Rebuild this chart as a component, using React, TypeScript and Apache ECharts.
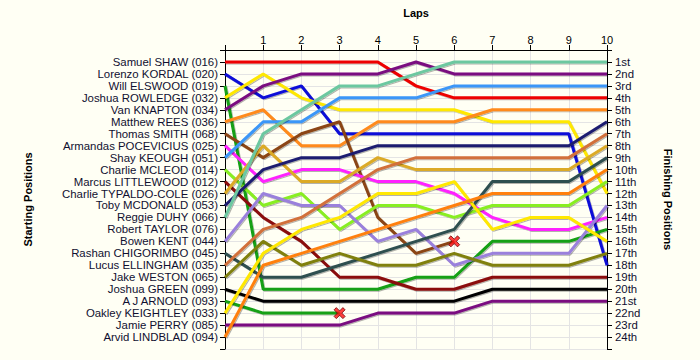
import React, { useEffect, useRef } from "react";
import * as echarts from "echarts";

const laps = [0, 1, 2, 3, 4, 5, 6, 7, 8, 9, 10];

const startNames = [
  "Samuel SHAW (016)",
  "Lorenzo KORDAL (020)",
  "Will ELSWOOD (019)",
  "Joshua ROWLEDGE (032)",
  "Van KNAPTON (034)",
  "Matthew REES (036)",
  "Thomas SMITH (068)",
  "Armandas POCEVICIUS (025)",
  "Shay KEOUGH (051)",
  "Charlie MCLEOD (014)",
  "Marcus LITTLEWOOD (012)",
  "Charlie TYPALDO-COLE (026)",
  "Toby MCDONALD (053)",
  "Reggie DUHY (066)",
  "Robert TAYLOR (076)",
  "Bowen KENT (044)",
  "Rashan CHIGORIMBO (045)",
  "Lucus ELLINGHAM (035)",
  "Jake WESTON (065)",
  "Joshua GREEN (099)",
  "A J ARNOLD (093)",
  "Oakley KEIGHTLEY (033)",
  "Jamie PERRY (085)",
  "Arvid LINDBLAD (094)",
];

const finishLabels = [
  "1st", "2nd", "3rd", "4th", "5th", "6th", "7th", "8th", "9th", "10th",
  "11th", "12th", "13th", "14th", "15th", "16th", "17th", "18th", "19th", "20th",
  "21st", "22nd", "23rd", "24th",
];

// Position at each lap (index = lap), keyed by grid slot
const pos01 = [1, 1, 1, 1, 1, 3, 4, 4, 4, 4, 4];
const pos02 = [2, 4, 3, 7, 7, 7, 7, 7, 7, 7, 18];
const pos03 = [3, 20, 20, 20, 20, 19, 19, 16, 16, 16, 15];
const pos04 = [4, 2, 4, 5, 5, 5, 5, 6, 6, 6, 12];
const pos05 = [5, 3, 2, 2, 2, 1, 2, 2, 2, 2, 2];
const pos06 = [6, 5, 8, 8, 6, 6, 6, 5, 5, 5, 5];
const pos07 = [7, 9, 7, 6, 14, 17, 16];
const pos08 = [8, 11, 10, 10, 11, 11, 12, 14, 15, 15, 14];
const pos09 = [9, 6, 6, 4, 4, 4, 3, 3, 3, 3, 3];
const pos10 = [10, 13, 12, 15, 13, 13, 14, 13, 13, 13, 11];
const pos11 = [11, 14, 16, 19, 19, 20, 20, 19, 19, 19, 19];
const pos12 = [12, 8, 11, 11, 9, 10, 10, 10, 10, 10, 8];
const pos13 = [13, 10, 9, 9, 8, 8, 8, 8, 8, 8, 6];
const pos14 = [14, 7, 5, 3, 3, 2, 1, 1, 1, 1, 1];
const pos16 = [16, 12, 13, 13, 16, 15, 18, 17, 17, 17, 13];
const pos17 = [17, 19, 19, 18, 17, 16, 15, 11, 11, 11, 9];
const pos18 = [18, 15, 14, 12, 10, 9, 9, 9, 9, 9, 7];
const pos19 = [19, 16, 18, 17, 18, 18, 17, 18, 18, 18, 17];
const pos20 = [20, 21, 21, 21, 21, 21, 21, 20, 20, 20, 20];
const pos21 = [21, 22, 22, 22];
const pos22 = [22, 17, 15, 14, 12, 12, 11, 15, 14, 14, 16];
const pos23 = [23, 23, 23, 23, 22, 22, 22, 21, 21, 21, 21];
const pos24 = [24, 18, 17, 16, 15, 14, 13, 12, 12, 12, 10];

// Retirements: [lap, position]
const retirements = [
  [3, 22],
  [6, 16],
];

const riders = [
  { name: startNames[0], data: pos01, color: "#ee0000" },
  { name: startNames[1], data: pos02, color: "#0a0ad8" },
  { name: startNames[2], data: pos03, color: "#12a012" },
  { name: startNames[3], data: pos04, color: "#ffe800" },
  { name: startNames[4], data: pos05, color: "#7a0a80" },
  { name: startNames[5], data: pos06, color: "#ff8a1c" },
  { name: startNames[6], data: pos07, color: "#8b4513" },
  { name: startNames[7], data: pos08, color: "#ff20ff" },
  { name: startNames[8], data: pos09, color: "#3a96f8" },
  { name: startNames[9], data: pos10, color: "#88ee22" },
  { name: startNames[10], data: pos11, color: "#8b0a0a" },
  { name: startNames[11], data: pos12, color: "#dcaa28" },
  { name: startNames[12], data: pos13, color: "#1c1c70" },
  { name: startNames[13], data: pos14, color: "#6cc8a0" },
  { name: startNames[15], data: pos16, color: "#9a80dc" },
  { name: startNames[16], data: pos17, color: "#2f4f4f" },
  { name: startNames[17], data: pos18, color: "#d2703a" },
  { name: startNames[18], data: pos19, color: "#808010" },
  { name: startNames[19], data: pos20, color: "#000000" },
  { name: startNames[20], data: pos21, color: "#12a012" },
  { name: startNames[21], data: pos22, color: "#ffe800" },
  { name: startNames[22], data: pos23, color: "#7a0a80" },
  { name: startNames[23], data: pos24, color: "#ff8010" },
];

const FONT = "'Liberation Sans', Arial, sans-serif";

export default function App() {
  const ref = useRef<HTMLDivElement>(null);

  useEffect(() => {
    if (!ref.current) return;
    const chart = echarts.init(ref.current, undefined, { renderer: "svg" });

    const lineSeries = riders.map((r) => ({
      type: "line" as const,
      name: r.name,
      data: r.data.map((p, i) => [laps[i], p]),
      showSymbol: false,
      symbol: "none",
      lineStyle: {
        width: 3,
        color: r.color,
        shadowColor: "rgba(0,0,0,0.3)",
        shadowBlur: 0.5,
        shadowOffsetX: 1,
        shadowOffsetY: 1,
      },
      itemStyle: { color: r.color },
      silent: true,
    }));

    const axisLabelStyle = { fontSize: 11.4, color: "#101030", fontFamily: FONT };

    chart.setOption({
      animation: false,
      backgroundColor: "#fffff4",
      grid: { left: 225, right: 93, top: 50, bottom: 11, containLabel: false },
      xAxis: {
        type: "value",
        position: "top",
        min: 0,
        max: 10,
        interval: 1,
        name: "Laps",
        nameLocation: "middle",
        nameGap: 32,
        nameTextStyle: { fontSize: 11, fontWeight: "bold", color: "#000", fontFamily: FONT },
        axisLine: { show: true, lineStyle: { color: "#000", width: 1 } },
        axisTick: { show: true, length: 5, lineStyle: { color: "#000" } },
        axisLabel: {
          ...axisLabelStyle,
          fontSize: 11,
          color: "#000",
          margin: 5,
          formatter: (v: number) => (v === 0 ? "" : String(v)),
        },
        splitLine: { show: true, lineStyle: { color: "#e4e4e4", width: 1 } },
      },
      yAxis: [
        {
          type: "value",
          position: "left",
          inverse: true,
          min: 0,
          max: 25,
          interval: 1,
          name: "Starting Positions",
          nameLocation: "middle",
          nameGap: 192,
          nameTextStyle: { fontSize: 11, fontWeight: "bold", color: "#000", fontFamily: FONT },
          axisLine: { show: true, lineStyle: { color: "#000", width: 1 } },
          axisTick: { show: true, length: 5, lineStyle: { color: "#000" } },
          axisLabel: {
            ...axisLabelStyle,
            margin: 7,
            formatter: (v: number) => startNames[v - 1] || "",
          },
          splitLine: { show: true, lineStyle: { color: "#e4e4e4", width: 1 } },
        },
        {
          type: "value",
          position: "right",
          inverse: true,
          min: 0,
          max: 25,
          interval: 1,
          name: "Finishing Positions",
          nameLocation: "middle",
          nameGap: 55,
          nameRotate: -90,
          nameTextStyle: { fontSize: 11, fontWeight: "bold", color: "#000", fontFamily: FONT },
          axisLine: { show: true, lineStyle: { color: "#000", width: 1 } },
          axisTick: { show: true, length: 5, lineStyle: { color: "#000" } },
          axisLabel: {
            ...axisLabelStyle,
            margin: 8,
            formatter: (v: number) => finishLabels[v - 1] || "",
          },
          splitLine: { show: false },
        },
      ],
      series: [
        ...lineSeries,
        {
          type: "scatter",
          data: retirements,
          symbol:
            "path://M2,0 L5,3 L8,0 L10,2 L7,5 L10,8 L8,10 L5,7 L2,10 L0,8 L3,5 L0,2 Z",
          symbolSize: 11,
          itemStyle: { color: "#ff1010", borderColor: "#700000", borderWidth: 1 },
          z: 10,
          silent: true,
        },
      ],
    });

    return () => chart.dispose();
  }, []);

  return (
    <div
      ref={ref}
      style={{ position: "fixed", left: 0, top: 0, width: 700, height: 360 }}
    />
  );
}
